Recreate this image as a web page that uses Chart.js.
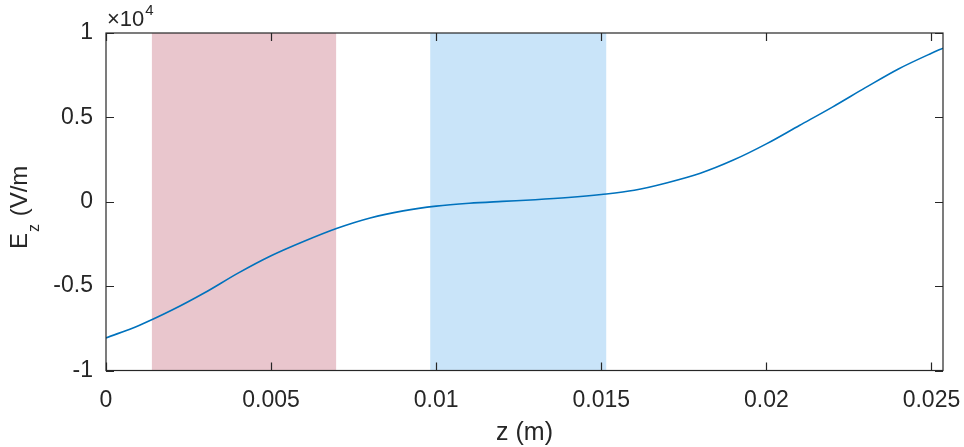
<!DOCTYPE html>
<html>
<head>
<meta charset="utf-8">
<script src="https://cdn.jsdelivr.net/npm/chart.js@4"></script>
<style>
  html, body { margin: 0; padding: 0; background: #fff; }
  #wrap { width: 964px; height: 447px; position: relative; }
</style>
</head>
<body>
<div id="wrap"><canvas id="chart"></canvas></div>
<script>
// z position (m) and field Ez (V/m)
const zValues = [0, 0.001, 0.002, 0.003, 0.004, 0.005, 0.006, 0.007, 0.008, 0.009,
  0.010, 0.011, 0.012, 0.013, 0.014, 0.015, 0.016, 0.017, 0.018, 0.019,
  0.020, 0.021, 0.022, 0.023, 0.024, 0.025, 0.02535]
const ezValues = [-8070, -7330, -6420, -5380, -4230, -3200, -2340, -1570, -960, -540,
  -260, -90, 20, 120, 250, 430, 680, 1130, 1690, 2470,
  3430, 4520, 5610, 6760, 7870, 8800, 9100]

// shaded regions [start, end] in m
const redBand = [0.00139, 0.00697]
const blueBand = [0.00982, 0.01515]

const xTicks = [0, 0.005, 0.01, 0.015, 0.02, 0.025]
const xTickLabels = ['0', '0.005', '0.01', '0.015', '0.02', '0.025']
const yTicks = [-10000, -5000, 0, 5000, 10000]
const yTickLabels = ['-1', '-0.5', '0', '0.5', '1']

const axisColor = '#262626'
const fontFamily = '"Liberation Sans", Arial, Helvetica, sans-serif'

const bandsPlugin = {
  id: 'bands',
  beforeDatasetsDraw(chart) {
    const { ctx, chartArea, scales } = chart
    const drawBand = (band, color) => {
      const x0 = scales.x.getPixelForValue(band[0])
      const x1 = scales.x.getPixelForValue(band[1])
      ctx.fillStyle = color
      ctx.fillRect(x0, chartArea.top, x1 - x0, chartArea.bottom - chartArea.top)
    }
    ctx.save()
    drawBand(redBand, '#e9c6cd')
    drawBand(blueBand, '#c9e4f9')
    ctx.restore()
  }
}

const boxPlugin = {
  id: 'box',
  afterDraw(chart) {
    const { ctx, chartArea, scales } = chart
    const { left, right, top, bottom } = chartArea
    const tl = 8
    ctx.save()
    ctx.strokeStyle = axisColor
    ctx.lineWidth = 1.2
    ctx.strokeRect(left, top, right - left, bottom - top)
    ctx.beginPath()
    xTicks.forEach(v => {
      const px = Math.round(scales.x.getPixelForValue(v)) + 0.5
      ctx.moveTo(px, bottom); ctx.lineTo(px, bottom - tl)
      ctx.moveTo(px, top); ctx.lineTo(px, top + tl)
    })
    yTicks.forEach(v => {
      const py = Math.round(scales.y.getPixelForValue(v)) + 0.5
      ctx.moveTo(left, py); ctx.lineTo(left + tl, py)
      ctx.moveTo(right, py); ctx.lineTo(right - tl, py)
    })
    ctx.stroke()

    // exponent label
    ctx.fillStyle = axisColor
    ctx.textBaseline = 'alphabetic'
    ctx.textAlign = 'left'
    ctx.font = '22px ' + fontFamily
    ctx.fillText('\u00d710', left + 1, top - 7)
    const w = ctx.measureText('\u00d710').width
    ctx.font = '15px ' + fontFamily
    ctx.fillText('4', left + 2 + w, top - 18)

    // x title
    ctx.font = '25px ' + fontFamily
    ctx.textAlign = 'center'
    ctx.fillText('z (m)', (left + right) / 2, 440)

    // y title, rotated
    ctx.translate(27, 249)
    ctx.rotate(-Math.PI / 2)
    ctx.textAlign = 'left'
    ctx.font = '24px ' + fontFamily
    ctx.fillText('E', 0, 0)
    const ew = ctx.measureText('E').width
    ctx.font = '16px ' + fontFamily
    ctx.fillText('z', ew + 1, 12)
    const zw = ctx.measureText('z').width
    ctx.font = '24px ' + fontFamily
    ctx.fillText(' (V/m', ew + zw + 2, 0)
    ctx.restore()
  }
}

new Chart(document.getElementById('chart'), {
  type: 'line',
  data: {
    datasets: [{
      data: zValues.map((z, i) => ({ x: z, y: ezValues[i] })),
      borderColor: '#0072bd',
      borderWidth: 1.6,
      pointRadius: 0,
      cubicInterpolationMode: 'monotone',
      fill: false
    }]
  },
  options: {
    responsive: true,
    maintainAspectRatio: false,
    animation: false,
    layout: { padding: { left: 0, right: 21, top: 33, bottom: 0 } },
    plugins: { legend: { display: false }, tooltip: { enabled: false } },
    scales: {
      x: {
        type: 'linear',
        min: 0,
        max: 0.02535,
        grid: { display: false, drawTicks: false },
        border: { display: false },
        afterBuildTicks: s => { s.ticks = xTicks.map(v => ({ value: v })) },
        afterFit: s => { s.height = 76.5; s.paddingLeft = 0; s.paddingRight = 0 },
        ticks: {
          padding: 16,
          color: axisColor,
          font: { family: fontFamily, size: 23 },
          maxRotation: 0,
          callback: (v) => xTickLabels[xTicks.indexOf(v)]
        }
      },
      y: {
        min: -10000,
        max: 10000,
        grid: { display: false, drawTicks: false },
        border: { display: false },
        afterBuildTicks: s => { s.ticks = yTicks.map(v => ({ value: v })) },
        afterFit: s => { s.width = 106; s.paddingTop = 0; s.paddingBottom = 0 },
        ticks: {
          padding: 13,
          color: axisColor,
          font: { family: fontFamily, size: 23 },
          callback: (v) => yTickLabels[yTicks.indexOf(v)]
        }
      }
    }
  },
  plugins: [bandsPlugin, boxPlugin]
})
</script>
</body>
</html>
